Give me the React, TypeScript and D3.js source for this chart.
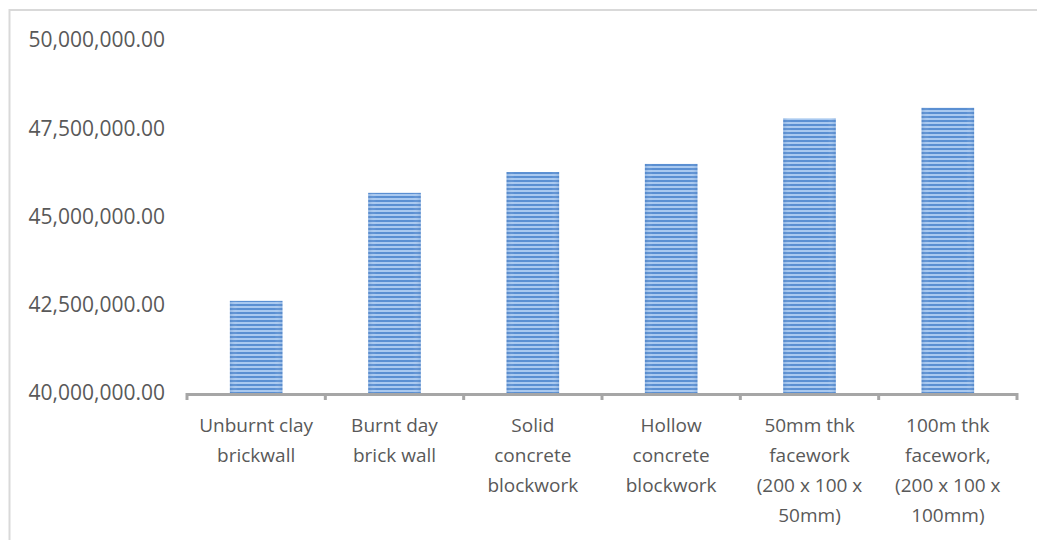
import React from "react";
import * as d3 from "d3";

// Wall types (multi-line labels) and their cost totals
const categories: string[][] = [
  ["Unburnt clay", "brickwall"],
  ["Burnt day", "brick wall"],
  ["Solid", "concrete", "blockwork"],
  ["Hollow", "concrete", "blockwork"],
  ["50mm thk", "facework", "(200 x 100 x", "50mm)"],
  ["100m thk", "facework,", "(200 x 100 x", "100mm)"],
];
const values: number[] = [42610000, 45670000, 46260000, 46490000, 47780000, 48080000];
const yTicks: number[] = [40000000, 42500000, 45000000, 47500000, 50000000];

const W = 1037;
const H = 540;
const FONT = "'Open Sans', 'Liberation Sans', sans-serif";
const TEXT = "#595959";
const AXIS = "#a6a6a6";

export default function App() {
  const x = d3
    .scaleBand<number>()
    .domain(d3.range(categories.length))
    .range([187, 1017])
    .paddingInner(0.62)
    .paddingOuter(0.31);
  const y = d3.scaleLinear().domain([40000000, 50000000]).range([393, 40]);
  const fmt = d3.format(",.2f");
  const step = x.step();
  const x0 = 187;
  const y0 = y(40000000);

  return (
    <svg
      width={W}
      height={H}
      style={{ position: "absolute", left: 0, top: 0, background: "#fff" }}
    >
      <defs>
        <pattern id="stripes" width="8" height="4" patternUnits="userSpaceOnUse">
          <rect width="8" height="4" fill="#a9c9f0" />
          <rect width="8" height="2" fill="#5a8fd2" />
        </pattern>
        <linearGradient id="edge" x1="0" x2="1" y1="0" y2="0">
          <stop offset="0" stopColor="#3f74b8" stopOpacity="0.25" />
          <stop offset="0.15" stopColor="#ffffff" stopOpacity="0" />
          <stop offset="0.85" stopColor="#ffffff" stopOpacity="0" />
          <stop offset="1" stopColor="#3f74b8" stopOpacity="0.25" />
        </linearGradient>
      </defs>

      {/* chart frame */}
      <rect x={9.5} y={10} width={1100} height={600} fill="none" stroke="#d9d9d9" strokeWidth={2} />

      {/* y-axis labels */}
      {yTicks.map((t) => (
        <text
          key={t}
          x={165}
          y={y(t)}
          dy="0.35em"
          textAnchor="end"
          fontFamily={FONT}
          fontSize={21}
          fill={TEXT}
        >
          {fmt(t)}
        </text>
      ))}

      {/* bars */}
      {values.map((v, i) => (
        <g key={i}>
          <rect
            x={x(i)!}
            y={y(v)}
            width={x.bandwidth()}
            height={y0 - y(v)}
            fill="url(#stripes)"
          />
          <rect
            x={x(i)!}
            y={y(v)}
            width={x.bandwidth()}
            height={y0 - y(v)}
            fill="url(#edge)"
          />
        </g>
      ))}

      {/* category axis */}
      <line x1={x0} x2={1017} y1={y0 + 1.5} y2={y0 + 1.5} stroke={AXIS} strokeWidth={3} />
      {d3.range(categories.length + 1).map((k) => (
        <line
          key={k}
          x1={x0 + k * step}
          x2={x0 + k * step}
          y1={y0}
          y2={y0 + 7}
          stroke={AXIS}
          strokeWidth={3}
        />
      ))}

      {/* category labels */}
      {categories.map((lines, i) => (
        <text
          key={i}
          x={x(i)! + x.bandwidth() / 2}
          y={432}
          textAnchor="middle"
          fontFamily={FONT}
          fontSize={19}
          fill={TEXT}
        >
          {lines.map((l, j) => (
            <tspan key={j} x={x(i)! + x.bandwidth() / 2} dy={j === 0 ? 0 : 30}>
              {l}
            </tspan>
          ))}
        </text>
      ))}
    </svg>
  );
}
